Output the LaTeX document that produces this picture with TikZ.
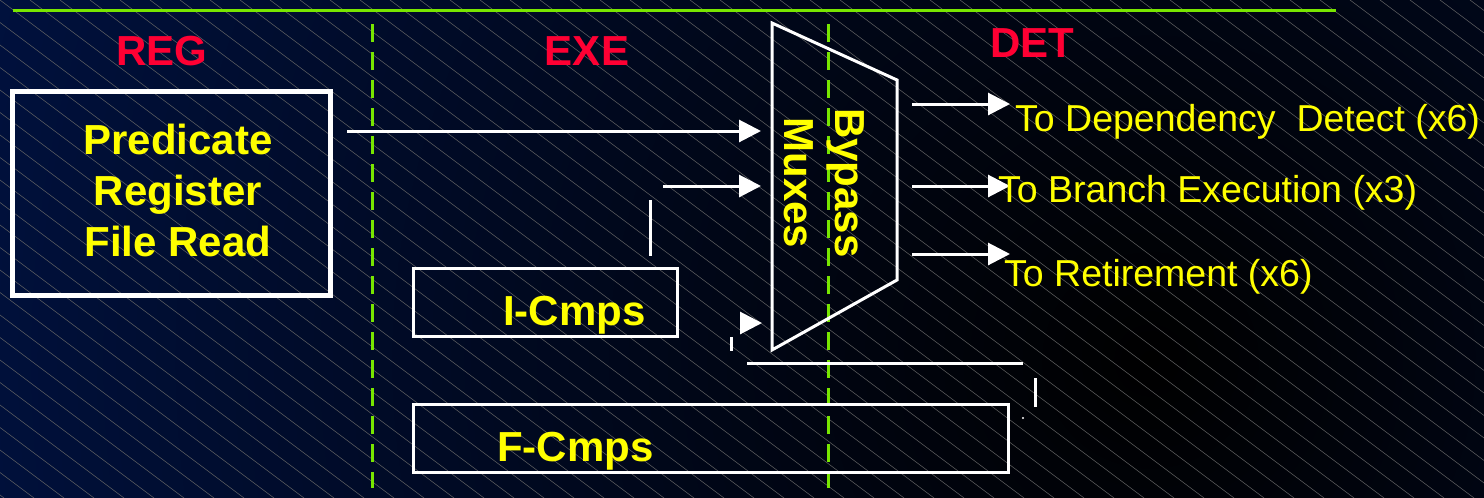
\documentclass[tikz,border=0pt]{standalone}
\usepackage{fontspec}
\setmainfont{Liberation Sans}
\usepackage{tikz}
\usetikzlibrary{arrows.meta}
\definecolor{bgblue}{RGB}{0,18,66}
\definecolor{lgreen}{RGB}{120,230,0}
\definecolor{regred}{RGB}{255,0,51}
\definecolor{yel}{RGB}{255,255,0}
\tikzset{
  hatch/.style={draw=white!40!black,line width=0.5pt},
  topline/.style={draw=lgreen,line width=3pt},
  stageline/.style={draw=lgreen,line width=3pt,dash pattern=on 18pt off 10pt},
  stagelbl/.style={font=\fontsize{42}{50}\selectfont\bfseries,text=regred,anchor=base},
  unitbox/.style={draw=white,line width=3pt},
  unittxt/.style={font=\fontsize{42}{51}\selectfont\bfseries,text=yel},
  outtxt/.style={font=\fontsize{37.5}{44}\selectfont,text=yel,anchor=base west,inner sep=0pt},
  wire/.style={draw=white,line width=3pt},
  arr/.style={wire,-{Triangle[length=22pt,width=22pt]}}
}

\begin{document}
\begin{tikzpicture}[x=1pt,y=-1pt]
  \useasboundingbox (0,0) rectangle (1484,498);
  \fill[bgblue] (0,0) rectangle (1484,498);
  \begin{scope}
    \clip (0,0) rectangle (1484,498);
    \shade[inner color=black,outer color=bgblue] (1150,360) circle (1300);
    \foreach \x in {-690,-660,...,1484} \draw[hatch] (\x,0) -- ++(664,498);
  \end{scope}
  \draw[topline] (13,10) -- (1336,10);
  \draw[stageline] (372,24) -- (372,488);
  \draw[stageline] (828,24) -- (828,488);
  \node[stagelbl] (reg) at (162,65) {REG};
  \node[stagelbl] (exe) at (587,65) {EXE};
  \node[stagelbl] (det) at (1032,57) {DET};
  \node[unitbox,line width=5pt,minimum width=318pt,minimum height=204pt] (pred) at (171.5,193) {};
  \node[unittxt,align=center] (predtxt) at (178,190) {Predicate\\Register\\File Read};
  \node[unitbox,minimum width=264pt,minimum height=68pt] (icmp) at (545,302) {};
  \node[unittxt,anchor=base west,inner sep=0pt] (icmptxt) at (503,325) {I-Cmps};
  \node[unitbox,minimum width=595pt,minimum height=68pt] (fcmp) at (710.5,438) {};
  \node[unittxt,anchor=base west,inner sep=0pt] (fcmptxt) at (497,461) {F-Cmps};
  \coordinate (mtl) at (772,23);
  \coordinate (mtr) at (897,80);
  \coordinate (mbr) at (897,280);
  \coordinate (mbl) at (772,350);
  \draw[wire,line join=miter] (mtl) -- (mtr) -- (mbr) -- (mbl) -- cycle;
  \node[unittxt,align=center,rotate=-90] (muxtxt) at (824,183) {Bypass\\Muxes};
  \coordinate (in1) at (761,131);
  \coordinate (in2) at (761,186);
  \coordinate (in3) at (762,323);
  \coordinate (icmpout) at (663,186);
  \draw[arr] ([xshift=14pt]pred.east |- in1) -- (in1);
  \draw[arr] (icmpout) -- (in2);
  \draw[arr] ([xshift=-22pt]in3) -- (in3);
  \coordinate (out1) at (1010,104);
  \coordinate (out2) at (1010,186);
  \coordinate (out3) at (1010,254);
  \draw[arr] ([xshift=15pt]mtr |- out1) -- (out1);
  \draw[arr] ([xshift=15pt]mtr |- out2) -- (out2);
  \draw[arr] ([xshift=15pt]mtr |- out3) -- (out3);
  \node[outtxt] (dep) at (1015,131) {To Dependency\ \ Detect (x6)};
  \node[outtxt] (br) at (998,202) {To Branch Execution (x3)};
  \node[outtxt] (ret) at (1004,286) {To Retirement (x6)};
  \draw[wire] (650,200) -- (650,256);
  \draw[wire] (731,337) -- (731,351);
  \draw[wire] (747,363) -- (1023,363);
  \draw[wire] (1035,378) -- (1035,407);
  \fill[white] (1023,418) circle (1.2);
\end{tikzpicture}
\end{document}
